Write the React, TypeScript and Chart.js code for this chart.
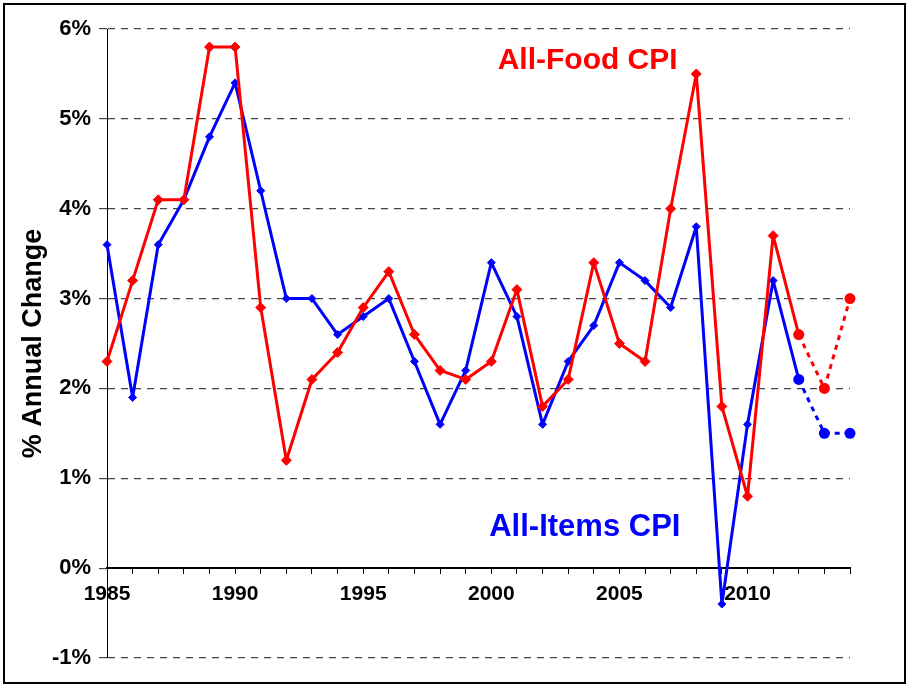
import React, { useEffect, useRef } from "react";
import { Chart, registerables } from "chart.js";

Chart.register(...registerables);

const years = [1985, 1986, 1987, 1988, 1989, 1990, 1991, 1992, 1993, 1994, 1995, 1996, 1997, 1998, 1999, 2000, 2001, 2002, 2003, 2004, 2005, 2006, 2007, 2008, 2009, 2010, 2011, 2012];
const foodCPI = [2.3, 3.2, 4.1, 4.1, 5.8, 5.8, 2.9, 1.2, 2.1, 2.4, 2.9, 3.3, 2.6, 2.2, 2.1, 2.3, 3.1, 1.8, 2.1, 3.4, 2.5, 2.3, 4.0, 5.5, 1.8, 0.8, 3.7, 2.6];
const itemsCPI = [3.6, 1.9, 3.6, 4.1, 4.8, 5.4, 4.2, 3.0, 3.0, 2.6, 2.8, 3.0, 2.3, 1.6, 2.2, 3.4, 2.8, 1.6, 2.3, 2.7, 3.4, 3.2, 2.9, 3.8, -0.4, 1.6, 3.2, 2.1];
const forecastYears = [2012, 2013, 2014];
const foodForecast = [2.6, 2.0, 3.0];
const itemsForecast = [2.1, 1.5, 1.5];
const xLabelYears = [1985, 1990, 1995, 2000, 2005, 2010];
const yTicks = [-1, 0, 1, 2, 3, 4, 5, 6];

const FONT = "'Liberation Sans', Arial, Helvetica, sans-serif";
const RED = "#ff0000";
const BLUE = "#0000ff";

const pts = (xs: number[], ys: number[]) => xs.map((x, i) => ({ x, y: ys[i] }));

export default function App() {
  const ref = useRef<HTMLCanvasElement | null>(null);

  useEffect(() => {
    if (!ref.current) return;

    const annotations = {
      id: "annotations",
      afterDatasetsDraw(chart: any) {
        const { ctx, scales } = chart;
        const xs = scales.x;
        const ys = scales.y;
        ctx.save();
        ctx.textAlign = "center";
        ctx.textBaseline = "alphabetic";
        ctx.font = `bold 30px ${FONT}`;
        ctx.fillStyle = RED;
        ctx.fillText("All-Food CPI", xs.getPixelForValue(2003.76), ys.getPixelForValue(5.556));
        ctx.font = `bold 31px ${FONT}`;
        ctx.fillStyle = BLUE;
        ctx.fillText("All-Items CPI", xs.getPixelForValue(2003.65), ys.getPixelForValue(0.363));
        ctx.restore();
      },
      afterDraw(chart: any) {
        const { ctx } = chart;
        ctx.save();
        ctx.strokeStyle = "#000";
        ctx.lineWidth = 2;
        ctx.strokeRect(4, 4, 901, 679);
        ctx.restore();
      },
    };

    const common = { borderWidth: 3, tension: 0, clip: false as any, borderJoinStyle: "round" as any };

    const chart = new Chart(ref.current, {
      type: "line",
      data: {
        datasets: [
          {
            ...common,
            label: "All-Food CPI",
            data: pts(years, foodCPI),
            borderColor: RED,
            backgroundColor: RED,
            pointStyle: "rectRot",
            pointRadius: 5,
            pointBorderWidth: 1,
            order: 1,
          },
          {
            ...common,
            label: "All-Food CPI forecast",
            data: pts(forecastYears, foodForecast),
            borderColor: RED,
            backgroundColor: RED,
            borderDash: [5, 5],
            pointStyle: "circle",
            pointRadius: 5.5,
            pointBorderWidth: 0,
            order: 0,
          },
          {
            ...common,
            label: "All-Items CPI",
            data: pts(years, itemsCPI),
            borderColor: BLUE,
            backgroundColor: BLUE,
            pointStyle: "rectRot",
            pointRadius: 4,
            pointBorderWidth: 1,
            order: 3,
          },
          {
            ...common,
            label: "All-Items CPI forecast",
            data: pts(forecastYears, itemsForecast),
            borderColor: BLUE,
            backgroundColor: BLUE,
            borderDash: [5, 5],
            pointStyle: "circle",
            pointRadius: 5.5,
            pointBorderWidth: 0,
            order: 2,
          },
        ],
      },
      options: {
        responsive: false,
        animation: false,
        layout: { padding: { left: 0, right: 57, top: 29, bottom: 27 } },
        plugins: {
          legend: { display: false },
          tooltip: { enabled: false },
        },
        scales: {
          x: {
            type: "linear",
            position: { y: 0 },
            min: 1985,
            max: 2014,
            ticks: {
              stepSize: 1,
              autoSkip: false,
              maxRotation: 0,
              padding: 8,
              color: "#000",
              font: { family: FONT, size: 21, weight: "bold" },
              callback: (v: any) => (xLabelYears.includes(Number(v)) ? String(v) : ""),
            },
            grid: {
              drawOnChartArea: false,
              drawTicks: true,
              tickLength: 5,
              color: "#000",
              tickColor: "#000",
            },
            border: { display: true, color: "#000", width: 2 },
          },
          y: {
            type: "linear",
            min: -1,
            max: 6,
            afterFit: (scale: any) => {
              scale.width = 107;
            },
            afterBuildTicks: (scale: any) => {
              scale.ticks = yTicks.map((v) => ({ value: v }));
            },
            ticks: {
              padding: 8,
              color: "#000",
              font: { family: FONT, size: 22, weight: "bold" },
              callback: (v: any) => `${v}%`,
            },
            grid: {
              drawTicks: true,
              tickLength: 8,
              lineWidth: 1.2,
              color: (c: any) => (c.tick && c.tick.value === 0 ? "rgba(0,0,0,0)" : "#444"),
              tickColor: "#444",
            },
            border: { display: true, color: "#000", width: 1, dash: [7, 6] },
            title: {
              display: true,
              text: "% Annual Change",
              color: "#000",
              padding: { top: 17, bottom: 0 },
              font: { family: FONT, size: 27, weight: "bold" },
            },
          },
        },
      },
      plugins: [annotations],
    });

    return () => chart.destroy();
  }, []);

  return (
    <div style={{ position: "absolute", left: 0, top: 0, width: 907, height: 685, background: "#fff" }}>
      <canvas ref={ref} width={907} height={685} style={{ display: "block" }} />
    </div>
  );
}
